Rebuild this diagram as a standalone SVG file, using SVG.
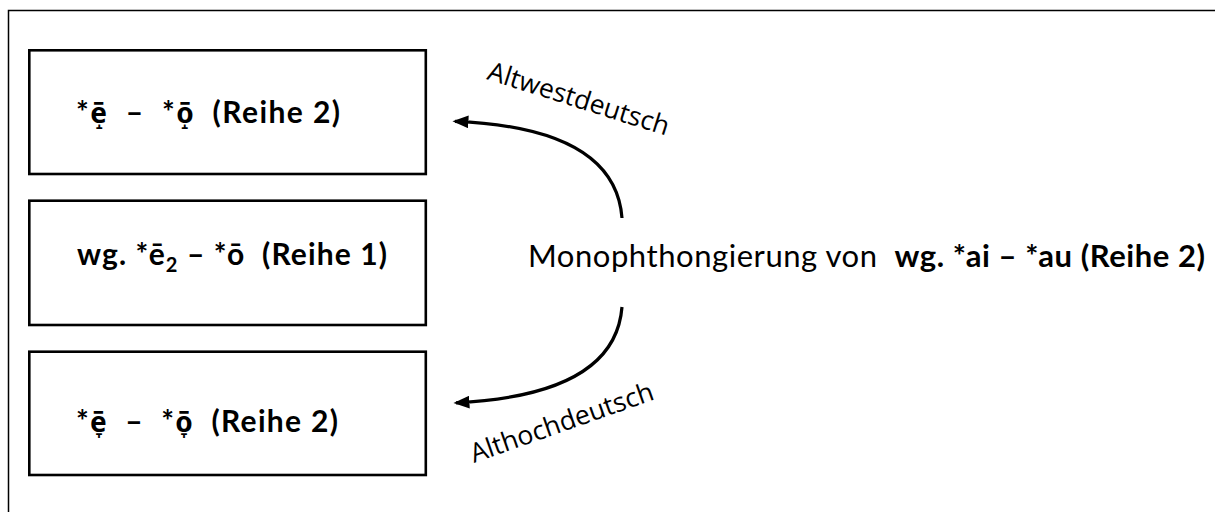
<svg xmlns="http://www.w3.org/2000/svg" width="1215" height="512" viewBox="0 0 1215 512">
  <style>
    text { white-space: pre; }
    .frame { fill: none; stroke: #000; stroke-width: 1.5; }
    .box { fill: #fff; stroke: #000; stroke-width: 2.6; }
    .lbl { font-family: Lato, "Noto Sans", "Liberation Sans", sans-serif; font-size: 30px; font-weight: bold; fill: #000; }
    .dia { font-family: "Noto Sans", "DejaVu Sans", sans-serif; font-size: 28px; }
    .main { font-family: Lato, "Noto Sans", "Liberation Sans", sans-serif; font-size: 31px; fill: #000; }
    .b { font-weight: bold; }
    .side { font-family: "Open Sans", "Noto Sans", sans-serif; font-size: 26.5px; fill: #000; }
    .conn { fill: none; stroke: #000; stroke-width: 3.2; }
  </style>
  <defs>
    <marker id="head" markerWidth="5" markerHeight="4" refX="4.2" refY="2" orient="auto" markerUnits="strokeWidth">
      <path d="M0,0 L5,2 L0,4 Z" fill="#000"/>
    </marker>
  </defs>

  <rect width="1215" height="512" fill="#fff"/>
  <!-- open frame: top and left edges only -->
  <path class="frame" d="M8.5,520 V10.5 H1220"/>

  <g id="node-reihe2-oben">
    <rect class="box" x="29.3" y="50.3" width="396.5" height="123.7"/>
    <text class="lbl" x="76" y="123" textLength="264" lengthAdjust="spacing">*<tspan class="dia">ē̝</tspan>  –  *<tspan class="dia">ō̝</tspan>  (Reihe 2)</text>
  </g>

  <g id="node-reihe1">
    <rect class="box" x="29.3" y="200.7" width="396.5" height="124.3"/>
    <text class="lbl" x="77" y="265" textLength="310" lengthAdjust="spacing">wg. *ē<tspan dy="7" font-size="20">2</tspan><tspan dy="-7"> – *ō  (Reihe 1)</tspan></text>
  </g>

  <g id="node-reihe2-unten">
    <rect class="box" x="29.3" y="351.7" width="396.5" height="123.3"/>
    <text class="lbl" x="76" y="432" textLength="262" lengthAdjust="spacing">*<tspan class="dia">ē̞</tspan>  –  *<tspan class="dia">ō̞</tspan>  (Reihe 2)</text>
  </g>

  <g id="node-monophthongierung">
    <text class="main" x="528" y="267" textLength="677" lengthAdjust="spacing">Monophthongierung von  <tspan class="b">wg. *ai – *au (Reihe 2)</tspan></text>
  </g>

  <g id="connectors">
    <path class="conn" d="M622,218 Q615,128 455,121.3" marker-end="url(#head)"/>
    <path class="conn" d="M622,307 Q615,395 456,402.8" marker-end="url(#head)"/>
    <text class="side" transform="translate(486,79) rotate(17.5)">Altwestdeutsch</text>
    <text class="side" transform="translate(474,463) rotate(-19.4)">Althochdeutsch</text>
  </g>
</svg>
